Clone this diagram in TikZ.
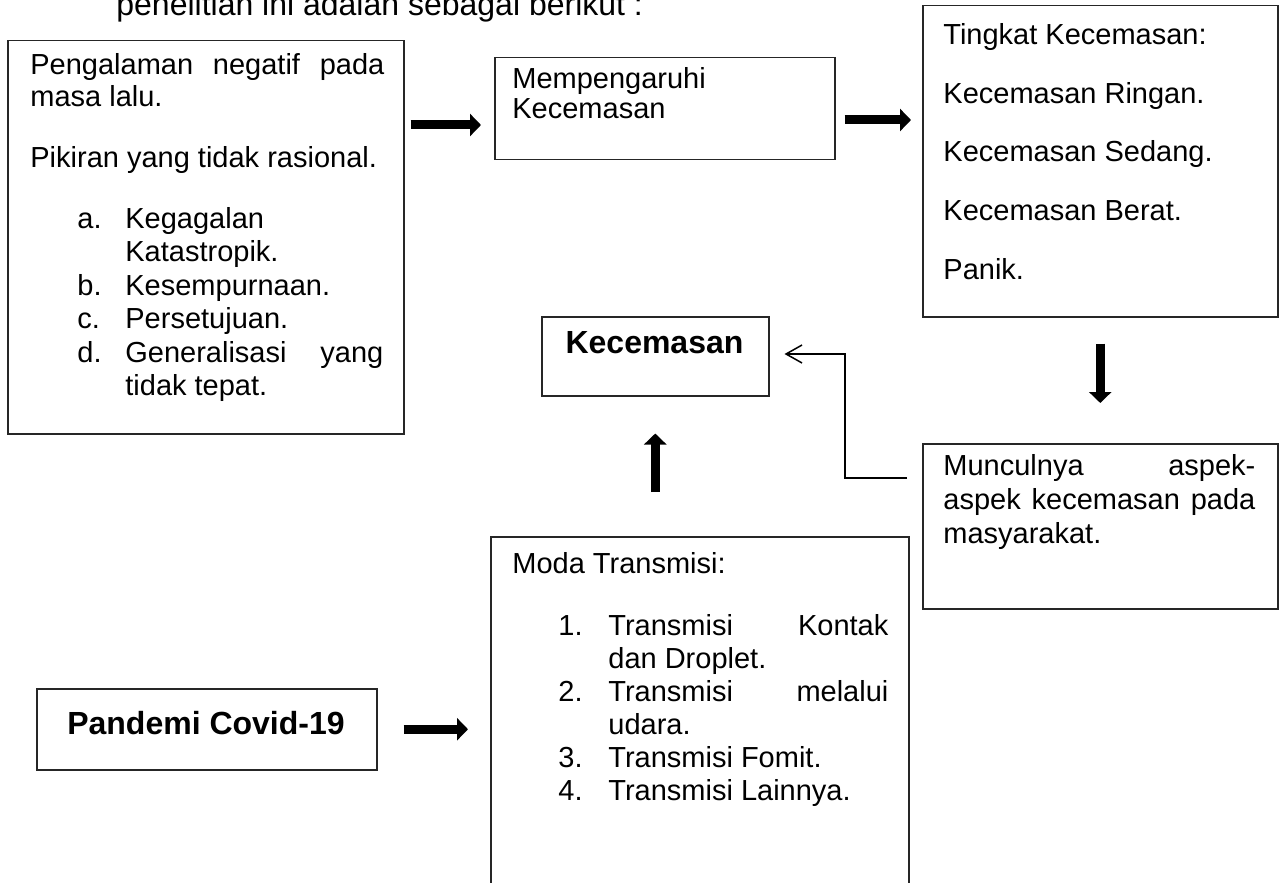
\documentclass[tikz,border=0pt]{standalone}
\usepackage{fontspec}
\setmainfont{Liberation Sans}
\usetikzlibrary{arrows.meta}
\newcommand\boxfont{\fontsize{14.5}{16.5}\selectfont}
\newcommand\introfont{\fontsize{16}{18}\selectfont}

\begin{document}
\begin{tikzpicture}[x=0.5pt, y=-0.5pt,
    box/.style={draw=black!85, line width=0.75pt, inner sep=0pt, anchor=north west},
    txt/.style={anchor=base west, inner sep=0pt, font=\boxfont},
    boldtxt/.style={anchor=base, inner sep=0pt, font=\introfont\bfseries},
    blockarrow/.style={line width=4.5pt, -{Triangle[width=11pt,length=5.5pt]}},
    thinarrow/.style={line width=0.75pt, -{Straight Barb[length=8pt,width=9pt]}}]
    \useasboundingbox (0,0) rectangle (1285,883);
    \clip (0,0) rectangle (1285,883);

    % Intro line, cut at the top
    \node[anchor=base west, inner sep=0pt, font=\introfont] (intro) at (116,16) {penelitian ini adalah sebagai berikut :};

    % Boxes
    \node[box, minimum width=198pt, minimum height=196.5pt] (pengbox) at (7,40) {};
    \node[box, minimum width=170pt, minimum height=51pt] (pengaruhbox) at (494,57) {};
    \node[box, minimum width=177.5pt, minimum height=155.5pt] (tingkatbox) at (922,5) {};
    \node[box, minimum width=113.5pt, minimum height=39.5pt] (cemasbox) at (541,316) {};
    \node[box, minimum width=177.5pt, minimum height=82.5pt] (munculbox) at (922,443) {};
    \node[box, minimum width=209pt, minimum height=182pt] (modabox) at (490,536) {};
    \node[box, minimum width=170pt, minimum height=40.5pt] (pandemibox) at (36,688) {};

    % Pengalaman box
    \node[txt] (peng1) at (30,75) {\makebox[177pt][s]{Pengalaman negatif pada}};
    \node[txt] (peng2) at (30,107) {masa lalu.};
    \node[txt] (peng3) at (30,168) {Pikiran yang tidak rasional.};
    \foreach \l/\yy in {a./228, b./295, c./328, d./362} {
        \node[txt] (lab\l) at (77,\yy) {\l};
    }
    \node[txt] (pitem1) at (125,228) {Kegagalan};
    \node[txt] (pitem2) at (125,261) {Katastropik.};
    \node[txt] (pitem3) at (125,295) {Kesempurnaan.};
    \node[txt] (pitem4) at (125,328) {Persetujuan.};
    \node[txt] (pitem5) at (125,362) {\makebox[129pt][s]{Generalisasi yang}};
    \node[txt] (pitem6) at (125,395) {tidak tepat.};

    % Mempengaruhi box
    \node[txt] (pgr1) at (512,89) {Mempengaruhi};
    \node[txt] (pgr2) at (512,119) {Kecemasan};

    % Tingkat box
    \foreach \t/\yy [count=\i] in {Tingkat Kecemasan:/45, Kecemasan Ringan./103.5,
            Kecemasan Sedang./162, Kecemasan Berat./220.5, Panik./279} {
        \node[txt] (tk\i) at (943,\yy) {\t};
    }

    % Kecemasan box
    \node[boldtxt] (cemas) at (654.5,353) {Kecemasan};

    % Munculnya box
    \node[txt] (mc1) at (943,475) {\makebox[156pt][s]{Munculnya aspek-}};
    \node[txt] (mc2) at (943,509) {\makebox[156pt][s]{aspek kecemasan pada}};
    \node[txt] (mc3) at (943,543) {masyarakat.};

    % Moda box
    \node[txt] (moda) at (512,573) {Moda Transmisi:};
    \foreach \n/\yy in {1/635, 2/701, 3/767, 4/800} {
        \node[txt] (num\n) at (558,\yy) {\n.};
    }
    \node[txt] (mitem1) at (608,635) {\makebox[140pt][s]{Transmisi Kontak}};
    \node[txt] (mitem2) at (608,668) {dan Droplet.};
    \node[txt] (mitem3) at (608,701) {\makebox[140pt][s]{Transmisi melalui}};
    \node[txt] (mitem4) at (608,734) {udara.};
    \node[txt] (mitem5) at (608,767) {Transmisi Fomit.};
    \node[txt] (mitem6) at (608,800) {Transmisi Lainnya.};

    % Pandemi box
    \node[boldtxt] (pandemi) at (206,734) {Pandemi Covid-19};

    % Arrows
    \coordinate (rowone) at (0,125);
    \coordinate (rowtwo) at (0,120);
    \coordinate (rowback) at (0,354);
    \coordinate (muncfree) at (907,478);
    \draw[blockarrow, shorten <=3pt, shorten >=6.5pt] (pengbox.east |- rowone) -- (pengaruhbox.west |- rowone);
    \draw[blockarrow, shorten <=4.5pt, shorten >=5.5pt] (pengaruhbox.east |- rowtwo) -- (tingkatbox.west |- rowtwo);
    \draw[blockarrow, shorten <=13pt, shorten >=20pt, xshift=1.5pt] (tingkatbox.south) -- (munculbox.north);
    \draw[blockarrow, shorten <=22pt, shorten >=18.5pt, xshift=1.5pt] (cemasbox.south |- modabox.north) -- (cemasbox.south);
    \draw[blockarrow, shorten <=13pt, shorten >=11pt] (pandemibox.east) -- (modabox.west |- pandemibox.east);
    \draw[thinarrow, shorten >=7.5pt] (muncfree) -| (845,354) -- (cemasbox.east |- rowback);
\end{tikzpicture}
\end{document}
